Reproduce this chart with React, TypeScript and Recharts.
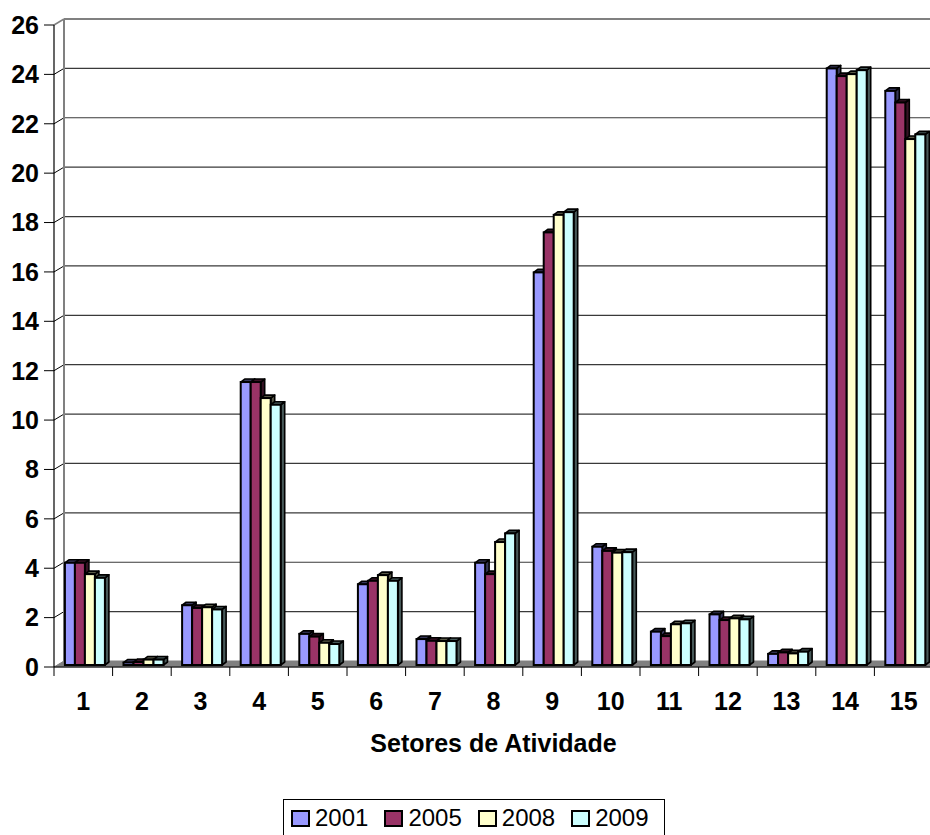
import React from 'react';
import { BarChart, Bar, XAxis, YAxis, CartesianGrid, Legend } from 'recharts';

const categories = ['1', '2', '3', '4', '5', '6', '7', '8', '9', '10', '11', '12', '13', '14', '15'];
const s2001 = [4.14, 0.1, 2.42, 11.46, 1.26, 3.27, 1.05, 4.14, 15.9, 4.79, 1.35, 2.05, 0.45, 24.16, 23.25];
const s2005 = [4.14, 0.12, 2.31, 11.46, 1.15, 3.41, 0.98, 3.68, 17.52, 4.62, 1.17, 1.82, 0.51, 23.85, 22.78];
const s2008 = [3.68, 0.22, 2.34, 10.81, 0.9, 3.64, 0.97, 4.98, 18.23, 4.55, 1.65, 1.89, 0.47, 23.93, 21.3];
const s2009 = [3.53, 0.22, 2.25, 10.54, 0.85, 3.41, 0.97, 5.33, 18.34, 4.57, 1.69, 1.85, 0.54, 24.09, 21.49];
const yTicks = [0, 2, 4, 6, 8, 10, 12, 14, 16, 18, 20, 22, 24, 26];
const seriesNames = ['2001', '2005', '2008', '2009'];
const seriesColors = ['#9999FF', '#993366', '#FFFFCC', '#CCFFFF'];
const xTitle = 'Setores de Atividade';

const seriesValues = [s2001, s2005, s2008, s2009];
const data = categories.map((c, i) => {
  const row: Record<string, any> = { cat: c };
  seriesNames.forEach((n, k) => {
    row[n] = seriesValues[k][i];
  });
  return row;
});

const CHART_W = 940;
const CHART_H = 835;
const MARGIN = { top: 25, right: 7, bottom: 78, left: 0 };
const X_AXIS_H = 90;
const PLOT_BOTTOM = CHART_H - MARGIN.bottom - X_AXIS_H;
const PLOT_TOP = MARGIN.top;
const WALL_DX = 10;
const WALL_DY = 6;
const FONT = '"Liberation Sans", Arial, sans-serif';

function shade(hex: string, f: number) {
  const n = parseInt(hex.slice(1), 16);
  const r = Math.round(((n >> 16) & 255) * f);
  const g = Math.round(((n >> 8) & 255) * f);
  const b = Math.round((n & 255) * f);
  return `rgb(${r},${g},${b})`;
}

const Bar3D = (props: any) => {
  const { x, y, width, height, fill } = props;
  if (x == null || y == null || !width) return null;
  const h = Math.max(height || 0, 0);
  const fx = x + 2;
  const fy = y - 2;
  const w = width;
  const dx = 4;
  const dy = 3;
  const dark = shade(fill, 0.35);
  return (
    <g>
      <polygon
        points={`${fx + w},${fy} ${fx + w + dx},${fy - dy} ${fx + w + dx},${fy + h - dy} ${fx + w},${fy + h}`}
        fill={dark}
        stroke="#000"
        strokeWidth={1.6}
        strokeLinejoin="round"
      />
      <polygon
        points={`${fx},${fy} ${fx + dx},${fy - dy} ${fx + w + dx},${fy - dy} ${fx + w},${fy}`}
        fill={dark}
        stroke="#000"
        strokeWidth={1.6}
        strokeLinejoin="round"
      />
      <rect x={fx} y={fy} width={w} height={h} fill={fill} stroke="#000" strokeWidth={2} />
    </g>
  );
};

const gridLine = (props: any) => {
  const { x1, x2, y1, key } = props;
  const by = y1 - WALL_DY;
  const bx = x1 + WALL_DX;
  if (Math.abs(y1 - PLOT_BOTTOM) < 0.6) {
    return (
      <g key={key}>
        <polygon
          points={`${x1},${y1} ${bx},${by} ${x2 + WALL_DX},${by} ${x2},${y1}`}
          fill="#808080"
          stroke="#808080"
          strokeWidth={1}
        />
      </g>
    );
  }
  if (Math.abs(y1 - PLOT_TOP) < 0.6) {
    return (
      <g key={key}>
        <line x1={bx} y1={by} x2={x2 + WALL_DX} y2={by} stroke="#808080" strokeWidth={2} />
        <line x1={bx} y1={by} x2={bx} y2={PLOT_BOTTOM - WALL_DY} stroke="#808080" strokeWidth={2} />
        <line x1={x1} y1={y1} x2={bx} y2={by} stroke="#808080" strokeWidth={1.5} />
      </g>
    );
  }
  return (
    <g key={key}>
      <line x1={bx} y1={by} x2={x2 + WALL_DX} y2={by} stroke="#3a3a3a" strokeWidth={1.2} />
      <line x1={x1} y1={y1} x2={bx} y2={by} stroke="#000" strokeWidth={1} />
    </g>
  );
};

const XTick = (props: any) => {
  const { x, y, payload } = props;
  const half = payload && typeof payload.offset === 'number' && payload.offset > 0 ? payload.offset : 29.3;
  return (
    <g>
      <line x1={x - half} y1={y - 9} x2={x - half} y2={y} stroke="#000" strokeWidth={1} />
      <text x={x} y={y + 34} textAnchor="middle" fontFamily={FONT} fontWeight="bold" fontSize={25} fill="#000">
        {payload.value}
      </text>
    </g>
  );
};

const LegendContent = (props: any) => {
  const payload = props.payload || [];
  return (
    <div
      style={{
        border: '1px solid #000',
        boxSizing: 'border-box',
        height: 48,
        background: '#fff',
        display: 'flex',
        alignItems: 'center',
        paddingLeft: 7,
        paddingBottom: 10,
        fontFamily: FONT,
        fontSize: 24,
        color: '#000',
      }}
    >
      {payload.map((p: any, i: number) => (
        <div key={i} style={{ display: 'flex', alignItems: 'center', marginRight: 16 }}>
          <span
            style={{
              display: 'inline-block',
              width: 15,
              height: 13,
              background: p.color,
              border: '2px solid #000',
              marginRight: 5,
            }}
          />
          <span style={{ lineHeight: '28px' }}>{p.value}</span>
        </div>
      ))}
    </div>
  );
};

export default function App() {
  return (
    <div
      style={{
        position: 'fixed',
        left: 0,
        top: 0,
        width: 930,
        height: 835,
        overflow: 'hidden',
        background: '#fff',
        fontFamily: FONT,
      }}
    >
      <BarChart
        width={CHART_W}
        height={CHART_H}
        data={data}
        margin={MARGIN}
        barCategoryGap="15.2%"
        barGap={0}
      >
        <CartesianGrid vertical={false} horizontal={gridLine} />
        <XAxis
          dataKey="cat"
          interval={0}
          height={X_AXIS_H}
          tickSize={9}
          tickMargin={0}
          tickLine={{ stroke: 'transparent' }}
          axisLine={{ stroke: '#000', strokeWidth: 1.2 }}
          tick={<XTick />}
          label={{
            value: xTitle,
            position: 'insideBottom',
            offset: 5,
            style: { fontFamily: FONT, fontWeight: 'bold', fontSize: 25, fill: '#000' },
          }}
        />
        <YAxis
          type="number"
          domain={[0, 26]}
          ticks={yTicks}
          interval={0}
          width={54}
          tickSize={10}
          tickMargin={5}
          axisLine={{ stroke: '#000', strokeWidth: 1.2 }}
          tickLine={{ stroke: '#000', strokeWidth: 1 }}
          tick={{ fontFamily: FONT, fontWeight: 'bold', fontSize: 25, fill: '#000' }}
        />
        {seriesNames.map((n, k) => (
          <Bar
            key={n}
            dataKey={n}
            name={n}
            fill={seriesColors[k]}
            shape={Bar3D}
            isAnimationActive={false}
          />
        ))}
        <Legend
          layout="horizontal"
          verticalAlign="middle"
          align="center"
          wrapperStyle={{ left: 283, top: 799, width: 382 }}
          content={LegendContent}
        />
      </BarChart>
    </div>
  );
}
